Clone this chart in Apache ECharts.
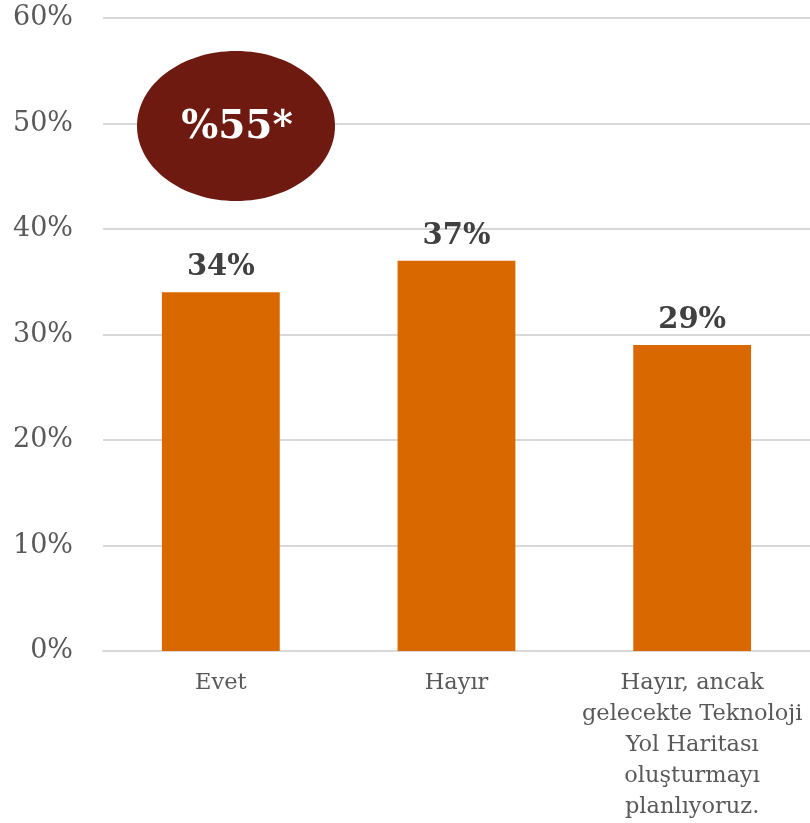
<!DOCTYPE html>
<html><head><meta charset="utf-8">
<script src="https://cdn.jsdelivr.net/npm/echarts@6/dist/echarts.min.js"></script>
<style>html,body{margin:0;padding:0;background:#fff}#c{width:810px;height:823px}</style>
</head><body><div id="c"></div>
<script>
const categories = ['Evet', 'Hayır', 'Hayır, ancak\ngelecekte Teknoloji\nYol Haritası\noluşturmayı\nplanlıyoruz.'];
const values = [34, 37, 29];
const yTicks = [0, 10, 20, 30, 40, 50, 60];
const badgeText = '%55*';

const serif = '"DejaVu Serif", "Liberation Serif", serif';
const chart = echarts.init(document.getElementById('c'));
chart.setOption({
  animation: false,
  grid: { left: 103, right: 0, top: 18, bottom: 170 },
  xAxis: {
    type: 'category', data: categories,
    axisLine: { lineStyle: { color: '#d9d9d9', width: 2 } },
    axisTick: { show: false },
    axisLabel: { color: '#595959', fontFamily: serif, fontSize: 22.5, lineHeight: 31, margin: 17, interval: 0 }
  },
  yAxis: {
    type: 'value', min: yTicks[0], max: yTicks[yTicks.length - 1], interval: 10,
    axisLine: { show: false }, axisTick: { show: false },
    splitLine: { lineStyle: { color: '#d9d9d9', width: 2 } },
    axisLabel: { color: '#595959', fontFamily: serif, fontSize: 27, margin: 30, formatter: v => v + '%' }
  },
  series: [{
    type: 'bar', data: values, barWidth: '50%',
    itemStyle: { color: '#DA6800' },
    label: { show: true, position: 'top', distance: 10, color: '#404040', fontFamily: serif, fontWeight: 'bold', fontSize: 29, formatter: p => p.value + '%' }
  }],
  graphic: [
    { type: 'ellipse', shape: { cx: 236, cy: 126, rx: 99, ry: 75 }, style: { fill: '#6E1A10' }, z: 10 },
    { type: 'text', x: 237, y: 128, style: { text: badgeText, fill: '#fff', font: 'bold 39px ' + serif, align: 'center', verticalAlign: 'middle' }, z: 11 }
  ]
});
</script></body></html>
